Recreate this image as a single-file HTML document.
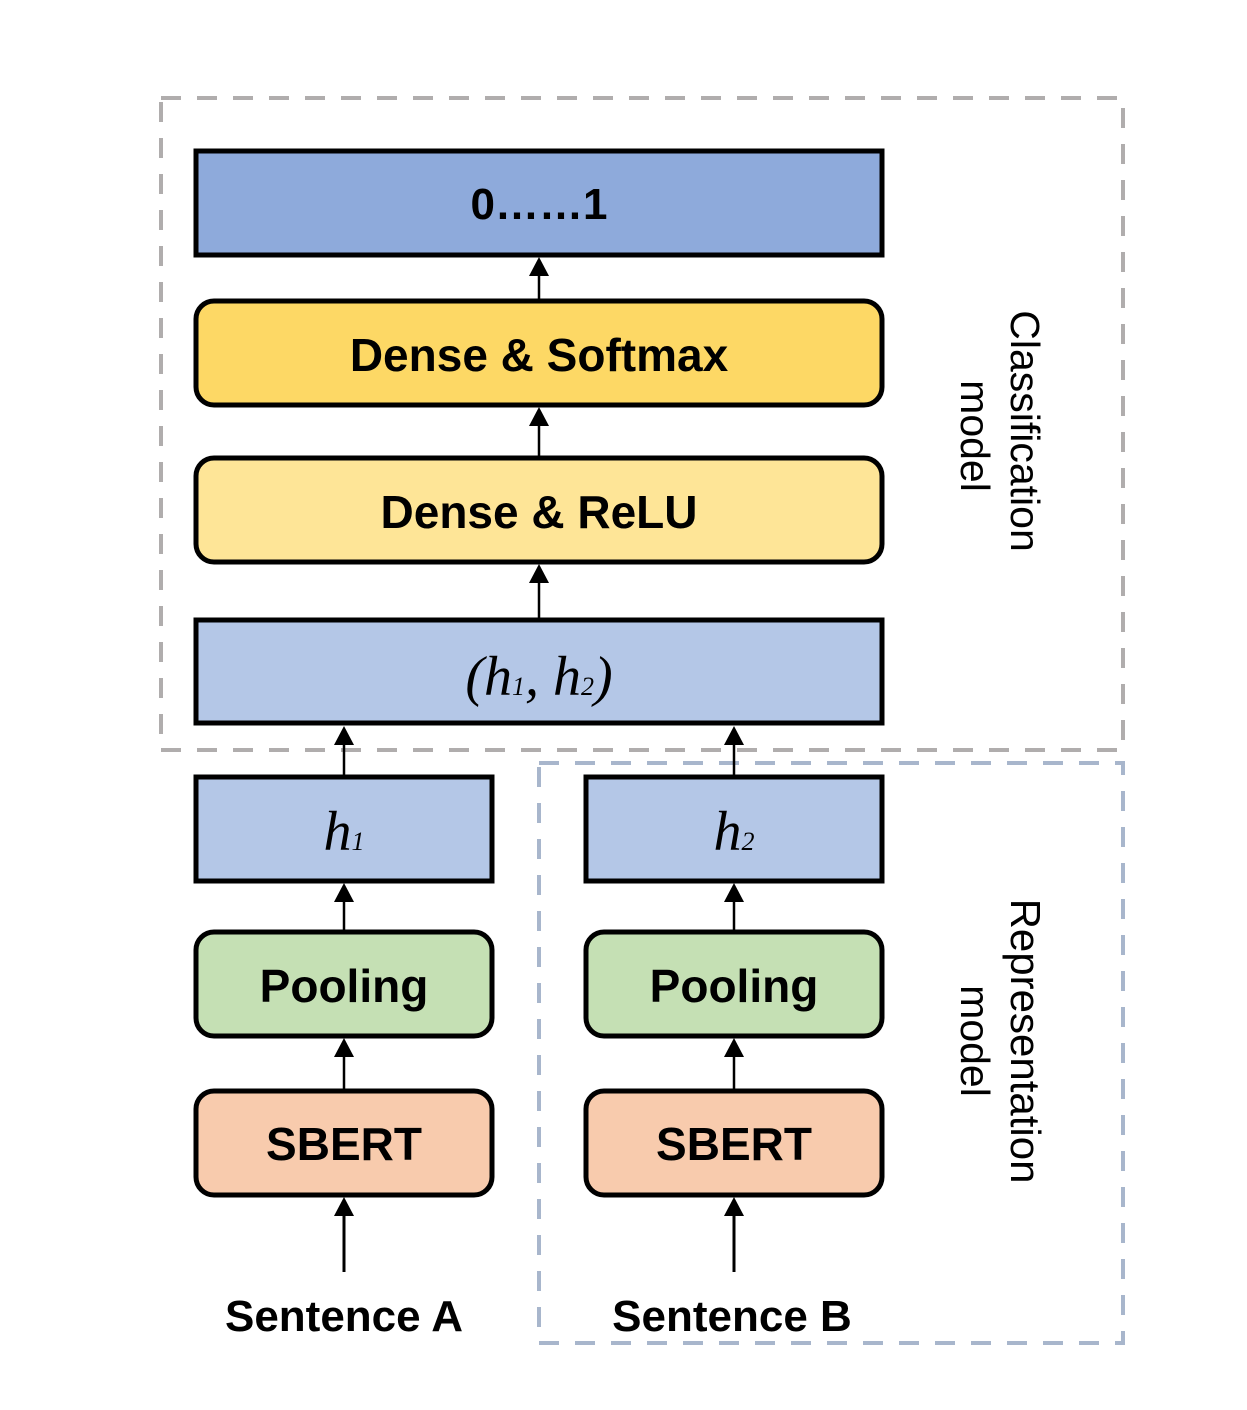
<!DOCTYPE html>
<html><head><style>
body{margin:0;background:#fff;}
</style></head><body>
<svg width="1247" height="1405" xmlns="http://www.w3.org/2000/svg">
<rect x="161" y="98" width="962" height="652" fill="none" stroke="#b0adad" stroke-width="4" stroke-dasharray="20,16"/>
<rect x="539" y="763" width="584" height="580" fill="none" stroke="#a8b6cc" stroke-width="4" stroke-dasharray="20,16"/>
<g stroke="#000" stroke-width="5">
<rect x="196" y="151" width="686" height="104" fill="#8eaadb"/>
<rect x="196" y="301" width="686" height="104" rx="18" fill="#fdd865"/>
<rect x="196" y="458" width="686" height="104" rx="18" fill="#fee597"/>
<rect x="196" y="620" width="686" height="103" fill="#b4c7e7"/>
<rect x="196" y="777" width="296" height="104" fill="#b4c7e7"/>
<rect x="586" y="777" width="296" height="104" fill="#b4c7e7"/>
<rect x="196" y="932" width="296" height="104" rx="18" fill="#c5e0b4"/>
<rect x="586" y="932" width="296" height="104" rx="18" fill="#c5e0b4"/>
<rect x="196" y="1091" width="296" height="104" rx="18" fill="#f8cbad"/>
<rect x="586" y="1091" width="296" height="104" rx="18" fill="#f8cbad"/>
</g>
<g stroke="#000" stroke-width="2.5">
<line x1="539" y1="299" x2="539" y2="270"/>
<line x1="539" y1="456" x2="539" y2="420"/>
<line x1="539" y1="618" x2="539" y2="578"/>
<line x1="344" y1="775" x2="344" y2="740"/>
<line x1="734" y1="775" x2="734" y2="740"/>
<line x1="344" y1="930" x2="344" y2="897"/>
<line x1="734" y1="930" x2="734" y2="897"/>
<line x1="344" y1="1089" x2="344" y2="1053"/>
<line x1="734" y1="1089" x2="734" y2="1053"/>
<line x1="344" y1="1272" x2="344" y2="1212" stroke-width="3"/>
<line x1="734" y1="1272" x2="734" y2="1212" stroke-width="3"/>
</g>
<g fill="#000">
<path d="M529,276 L549,276 L539,257 Z"/>
<path d="M529,426 L549,426 L539,407 Z"/>
<path d="M529,583 L549,583 L539,564 Z"/>
<path d="M334,745 L354,745 L344,726 Z"/>
<path d="M724,745 L744,745 L734,726 Z"/>
<path d="M334,902 L354,902 L344,883 Z"/>
<path d="M724,902 L744,902 L734,883 Z"/>
<path d="M334,1057 L354,1057 L344,1038 Z"/>
<path d="M724,1057 L744,1057 L734,1038 Z"/>
<path d="M334,1216 L354,1216 L344,1197 Z"/>
<path d="M724,1216 L744,1216 L734,1197 Z"/>
</g>
<g font-family="Liberation Sans, sans-serif" font-weight="bold" font-size="46" text-anchor="middle" fill="#000">
<text x="539" y="219" font-size="44">0……1</text>
<text x="539" y="371">Dense &amp; Softmax</text>
<text x="539" y="528">Dense &amp; ReLU</text>
<text x="344" y="1002">Pooling</text>
<text x="734" y="1002">Pooling</text>
<text x="344" y="1160">SBERT</text>
<text x="734" y="1160">SBERT</text>
<text x="344" y="1331" font-size="44">Sentence A</text>
<text x="732" y="1331" font-size="44">Sentence B</text>
</g>
<g font-family="Liberation Serif, serif" font-style="italic" font-size="56" text-anchor="middle" fill="#000">
<text x="539" y="695">(h<tspan font-size="26">1</tspan>, h<tspan font-size="26">2</tspan>)</text>
<text x="344" y="850">h<tspan font-size="26">1</tspan></text>
<text x="734" y="850">h<tspan font-size="26">2</tspan></text>
</g>
<g font-family="Liberation Sans, sans-serif" font-size="41" text-anchor="middle" fill="#000">
<text transform="translate(1011,431) rotate(90)">Classification</text>
<text transform="translate(961,436) rotate(90)">model</text>
<text transform="translate(1011,1041) rotate(90)" font-size="42">Representation</text>
<text transform="translate(961,1041) rotate(90)">model</text>
</g>
</svg>
</body></html>
